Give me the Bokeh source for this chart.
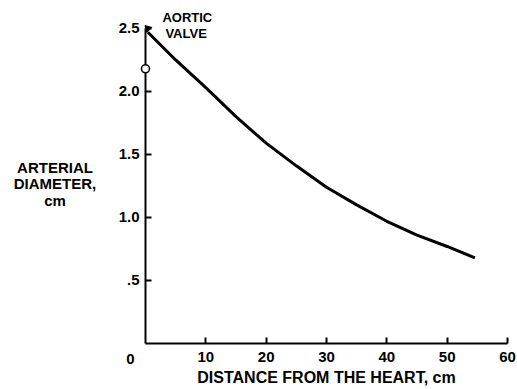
from bokeh.plotting import figure
from bokeh.models import Range1d, FixedTicker, Label
from bokeh.embed import file_html
from bokeh.resources import INLINE

# data
distance_cm = [0.4, 5, 10, 15, 20, 25, 30, 35, 40, 45, 50, 54.6]
diameter_cm = [2.47, 2.25, 2.03, 1.80, 1.59, 1.41, 1.24, 1.10, 0.97, 0.86, 0.77, 0.68]
valve_marker_x = [0]
valve_marker_y = [2.18]
x_ticks = [10, 20, 30, 40, 50, 60]
y_ticks = [0.5, 1.0, 1.5, 2.0, 2.5]
y_tick_labels = {0.5: ".5", 1.0: "1.0", 1.5: "1.5", 2.0: "2.0", 2.5: "2.5"}

FONT = "Liberation Sans"

p = figure(width=517, height=389, output_backend="svg", toolbar_location=None,
           x_range=Range1d(-24.03, 61.66), y_range=Range1d(-0.365, 2.722),
           min_border_left=0, min_border_right=0, min_border_top=0,
           min_border_bottom=0)
p.outline_line_color = None
p.xgrid.visible = False
p.ygrid.visible = False
p.background_fill_color = "white"
p.border_fill_color = "white"

for ax in (p.xaxis[0], p.yaxis[0]):
    ax.fixed_location = 0
    ax.axis_line_width = 2
    ax.axis_line_color = "black"
    ax.major_tick_in = 6
    ax.major_tick_out = 0
    ax.major_tick_line_width = 2
    ax.minor_tick_line_color = None
    ax.major_label_text_font = FONT
    ax.major_label_text_font_style = "bold"
    ax.major_label_text_font_size = "15px"
    ax.major_label_text_color = "black"

p.xaxis.ticker = FixedTicker(ticks=x_ticks)
p.xaxis.major_label_standoff = 8
p.xaxis.bounds = (0, 60)
p.xaxis.axis_label = "DISTANCE FROM THE HEART, cm"
p.xaxis.axis_label_text_font = FONT
p.xaxis.axis_label_text_font_style = "bold"
p.xaxis.axis_label_text_font_size = "16px"
p.xaxis.axis_label_text_color = "black"
p.xaxis.axis_label_standoff = 4

p.yaxis.ticker = FixedTicker(ticks=y_ticks)
p.yaxis.major_label_overrides = y_tick_labels
p.yaxis.major_label_standoff = 6
p.yaxis.bounds = (0, 2.5)

p.line(distance_cm, diameter_cm, line_width=3, line_color="black",
       line_join="round")
p.scatter([distance_cm[0]], [2.5], marker="triangle", size=7, angle=0.785,
          fill_color="black", line_color="black")
circ = p.scatter(valve_marker_x, valve_marker_y, marker="circle", size=8,
                 fill_color="white", line_color="black", line_width=1.5)
circ.level = "overlay"

def lab(x, y, t, size="15px", align="left"):
    p.add_layout(Label(x=x, y=y, text=t, text_font=FONT, text_font_style="bold",
                       text_font_size=size, text_align=align,
                       text_baseline="middle", text_color="black"))

lab(2.8, 2.585, "AORTIC", "13px")
lab(3.3, 2.46, "VALVE", "13px")
lab(-15.0, 1.40, "ARTERIAL", align="center")
lab(-15.0, 1.27, "DIAMETER,", align="center")
lab(-15.0, 1.135, "cm", align="center")
lab(-2.5, -0.12, "0", align="center")

open("out.html", "w").write(file_html(p, INLINE))
